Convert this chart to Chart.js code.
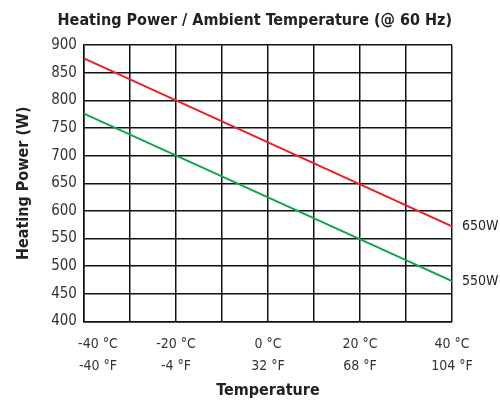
<!DOCTYPE html>
<html>
<head>
<meta charset="utf-8">
<script src="https://cdn.jsdelivr.net/npm/chart.js@4/dist/chart.umd.min.js"></script>
<style>
  html, body { margin: 0; padding: 0; background: #fff; }
  #wrap { width: 500px; height: 402px; }
</style>
</head>
<body>
<div id="wrap"><canvas id="heatChart" width="500" height="402"></canvas></div>
<script>
const tempC = [-40, 40];
const power650 = [876, 572];
const power550 = [776, 473];
const tickC = ['-40 °C', '-20 °C', '0 °C', '20 °C', '40 °C'];
const tickF = ['-40 °F', '-4 °F', '32 °F', '68 °F', '104 °F'];
const seriesNames = ['650W', '550W'];

const FONT = "'Liberation Sans Narrow', 'DejaVu Sans Condensed', 'Arial Narrow', sans-serif";

// writes "650W" / "550W" just right of each line end
const endLabels = {
    id: 'endLabels',
    afterDatasetsDraw(chart) {
        const ctx = chart.ctx;
        ctx.save();
        ctx.font = '14px ' + FONT;
        ctx.fillStyle = '#222';
        ctx.textBaseline = 'middle';
        chart.data.datasets.forEach(function (ds, i) {
            const meta = chart.getDatasetMeta(i);
            const last = meta.data[meta.data.length - 1];
            ctx.fillText(ds.label, last.x + 10, last.y);
        });
        ctx.restore();
    }
};

const toPts = (ys) => tempC.map((x, i) => ({ x: x, y: ys[i] }));

const config = {
    type: 'line',
    data: {
        datasets: [{
            label: seriesNames[0],
            data: toPts(power650),
            borderColor: '#e8202a',
            borderWidth: 2,
            pointRadius: 0
        },
        {
            label: seriesNames[1],
            data: toPts(power550),
            borderColor: '#12a54a',
            borderWidth: 2,
            pointRadius: 0
        }]
    },
    options: {
        responsive: false,
        animation: false,
        layout: { padding: { left: 4, right: 48, top: 0, bottom: 0 } },
        scales: {
            x: {
                type: 'linear',
                min: -40,
                max: 40,
                border: { color: '#111', width: 1.5 },
                grid: { color: '#111', lineWidth: 1.5, drawTicks: false },
                ticks: {
                    stepSize: 10,
                    autoSkip: false,
                    maxRotation: 0,
                    padding: 12,
                    color: '#333',
                    font: { family: FONT, size: 14, lineHeight: 1.55 },
                    callback: function (value) {
                        const k = tickC.findIndex((t, j) => -40 + j * 20 === value);
                        if (k < 0) return '';
                        // first label sits a bit right of its gridline, as in the source
                        const pad = k === 0 ? '\u00a0\u00a0\u00a0\u00a0\u00a0\u00a0\u00a0' : '';
                        return [pad + tickC[k], pad + tickF[k]];
                    }
                },
                title: {
                    display: true,
                    text: 'Temperature',
                    color: '#222',
                    padding: { top: -8, bottom: 2 },
                    font: { family: FONT, size: 16, weight: 'bold' }
                }
            },
            y: {
                min: 400,
                max: 900,
                border: { color: '#111', width: 1.5 },
                grid: { color: '#111', lineWidth: 1.5, drawTicks: false },
                ticks: {
                    stepSize: 50,
                    padding: 7,
                    color: '#333',
                    font: { family: FONT, size: 15 }
                },
                title: {
                    display: true,
                    text: 'Heating Power (W)',
                    color: '#222',
                    padding: { top: 10, bottom: 11 },
                    font: { family: FONT, size: 16, weight: 'bold' }
                }
            }
        },
        plugins: {
            legend: { display: false },
            tooltip: { enabled: false },
            title: {
                display: true,
                align: 'end',
                text: 'Heating Power / Ambient Temperature (@ 60 Hz)',
                color: '#222',
                padding: { top: 11, bottom: 15 },
                font: { family: FONT, size: 16, weight: 'bold' }
            }
        }
    },
    plugins: [endLabels]
};

const heatChart = new Chart(document.getElementById('heatChart'), config);
</script>
</body>
</html>
